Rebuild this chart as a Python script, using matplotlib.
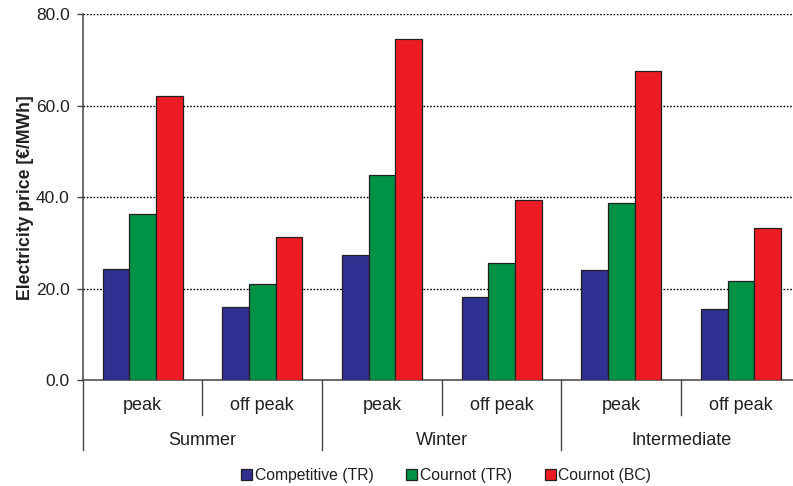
import matplotlib
matplotlib.use("Agg")
import matplotlib.pyplot as plt
from matplotlib.patches import Patch
import numpy as np

seasons = ["Summer", "Winter", "Intermediate"]
periods = ["peak", "off peak"]
series_names = ["Competitive (TR)", "Cournot (TR)", "Cournot (BC)"]
competitive = [24.2, 16.0, 27.3, 18.1, 24.0, 15.6]
cournot_tr = [36.4, 21.1, 44.8, 25.5, 38.7, 21.7]
cournot_bc = [62.1, 31.3, 74.7, 39.3, 67.5, 33.2]
yticks = [0, 20, 40, 60, 80]

colors = ["#2E3192", "#009245", "#ED1C24"]
edge = "#231F20"
txt = "#231F20"

plt.rcParams['font.family'] = ['Liberation Sans', 'DejaVu Sans']

W, H = 793, 486
fig = plt.figure(figsize=(W/100, H/100), dpi=100)
left_px, right_px, top_px, bot_px = 82.7, 800.7, 14.3, 380.0
ax = fig.add_axes([left_px/W, 1 - bot_px/H, (right_px-left_px)/W, (bot_px-top_px)/H])

n = len(competitive)
x = np.arange(n)
bw = 0.223
for i, (vals, c) in enumerate(zip([competitive, cournot_tr, cournot_bc], colors)):
    ax.bar(x + (i-1)*bw, vals, width=bw, color=c, edgecolor=edge, linewidth=0.9, zorder=3)

ax.set_xlim(-0.5, n - 0.5)
ax.set_ylim(0, 80)
ax.set_yticks(yticks)
ax.set_yticklabels([f"{v:.1f}" for v in yticks], fontsize=12.5, color=txt)
ax.tick_params(axis='y', length=4, width=1, color="#444444", pad=5.5)
ax.set_xticks([])
for s in ['top', 'right']:
    ax.spines[s].set_visible(False)
ax.spines['left'].set_color("#444444")
ax.spines['bottom'].set_color("#444444")
ax.spines['left'].set_linewidth(1.1)
ax.spines['bottom'].set_linewidth(1.1)
for v in yticks[1:]:
    ax.axhline(v, color="black", linewidth=1.0, linestyle=(0, (1.2, 1.2)), zorder=1)

ax.set_ylabel("Electricity price [€/MWh]", fontsize=12.7, fontweight='bold', color=txt, labelpad=1.5)

h_ax = bot_px - top_px
def ay(px):
    return -(px - bot_px) / h_ax

for i in range(n):
    ax.text(i, ay(405), periods[i % 2], transform=ax.get_xaxis_transform(),
            ha='center', va='center', fontsize=13, color=txt)
for i in range(n + 1):
    xb = i - 0.5
    y1 = ay(450) if i % 2 == 0 else ay(415)
    ax.plot([xb, xb], [0, y1], transform=ax.get_xaxis_transform(), color="#444444",
            linewidth=1.0, clip_on=False)
for j, s in enumerate(seasons):
    ax.text(2*j + 0.5, ay(440), s, transform=ax.get_xaxis_transform(),
            ha='center', va='center', fontsize=13, color=txt)

handles = [Patch(facecolor=c, edgecolor=edge, linewidth=0.9) for c in colors]
fig.legend(handles, series_names, loc='center', bbox_to_anchor=(446/W, 1 - 475/H),
           ncol=3, frameon=False, fontsize=11.3, handlelength=0.7, handleheight=0.7,
           handletextpad=0.15, columnspacing=2.1, labelcolor=txt,
           borderpad=0, borderaxespad=0)

fig.savefig("out.png", dpi=100)
